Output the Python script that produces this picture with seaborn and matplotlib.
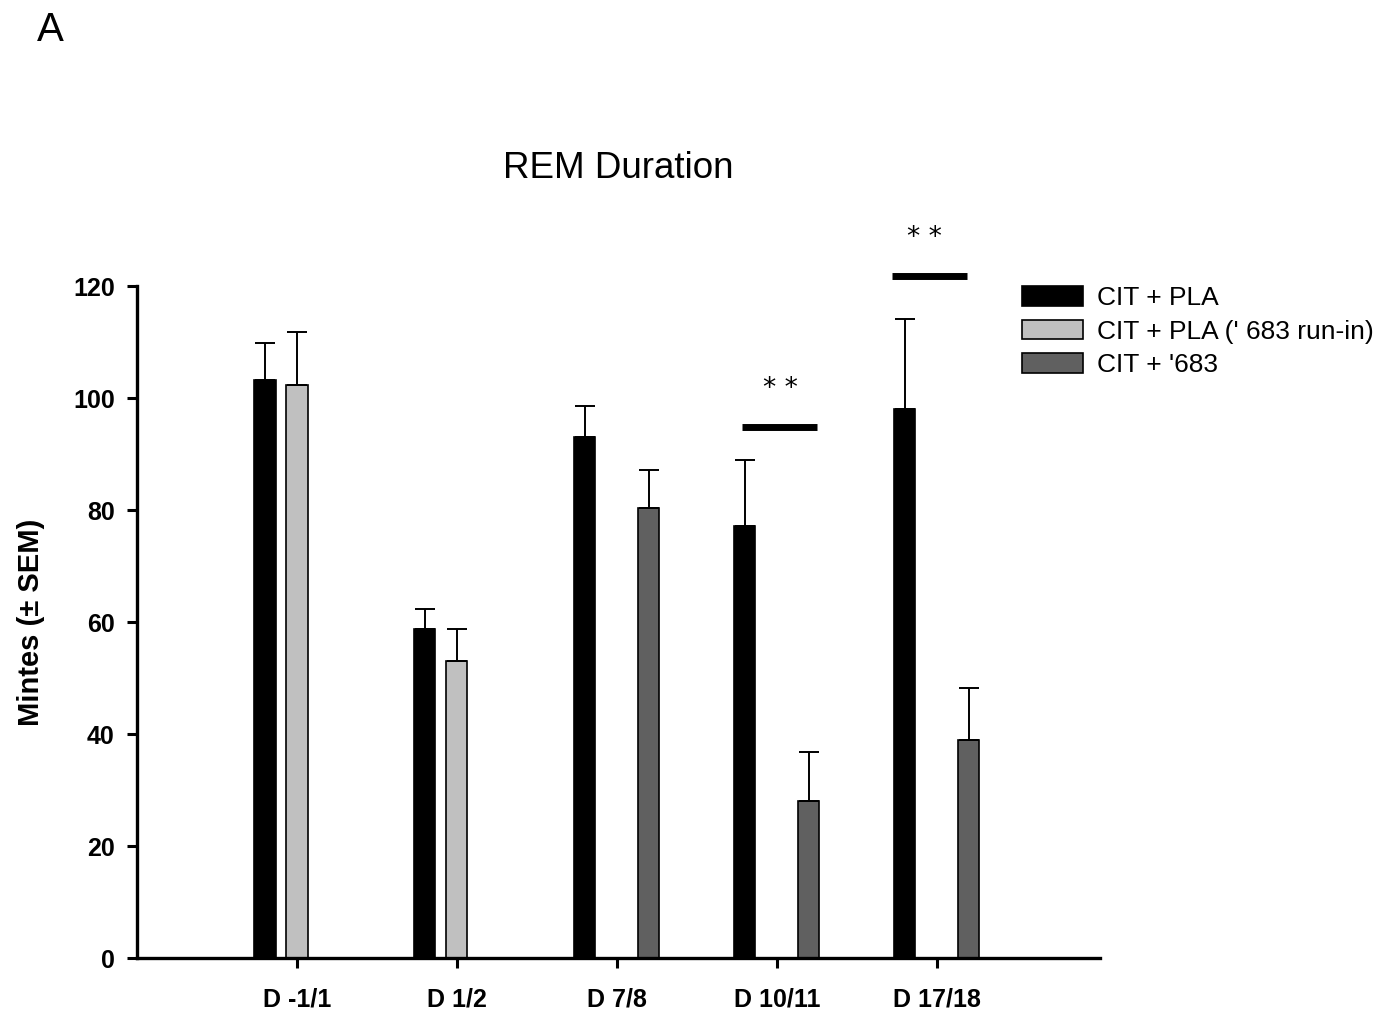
import matplotlib
matplotlib.use("Agg")
import matplotlib.pyplot as plt
import numpy as np
import pandas as pd
import seaborn as sns

# values (minutes, mean and SEM)
days = ["D -1/1", "D 1/2", "D 7/8", "D 10/11", "D 17/18"]
groups = ["CIT + PLA", "CIT + PLA (' 683 run-in)", "CIT + '683"]

cit_pla = [103.3, 58.8, 93.1, 77.2, 98.0]
cit_pla_sem = [6.6, 3.5, 5.5, 11.8, 16.1]

run_in_days = ["D -1/1", "D 1/2"]
run_in = [102.4, 53.1]
run_in_sem = [9.4, 5.7]

drug_days = ["D 7/8", "D 10/11", "D 17/18"]
cit_683 = [80.3, 28.1, 38.9]
cit_683_sem = [6.9, 8.6, 9.3]

colors = ["#000000", "#c0c0c0", "#606060"]


def build_frame():
    rows = []
    for d, v, s in zip(days, cit_pla, cit_pla_sem):
        rows.append((d, groups[0], v, s))
    for d, v, s in zip(run_in_days, run_in, run_in_sem):
        rows.append((d, groups[1], v, s))
    for d, v, s in zip(drug_days, cit_683, cit_683_sem):
        rows.append((d, groups[2], v, s))
    return pd.DataFrame(rows, columns=["Day", "Group", "Minutes", "SEM"])


def main():
    sns.set_style("ticks")
    plt.rcParams["font.family"] = ["Liberation Sans", "DejaVu Sans"]
    for key in ["text.color", "axes.labelcolor", "xtick.color", "ytick.color"]:
        plt.rcParams[key] = "black"

    data = build_frame()

    fig = plt.figure(figsize=(13.87, 10.13), dpi=100)
    ax = fig.add_axes([137 / 1387, 55 / 1013, 963 / 1387, 672 / 1013])

    sns.barplot(data=data, x="Day", y="Minutes", hue="Group", order=days,
                hue_order=groups, palette=colors, width=0.6, gap=0.34,
                errorbar=None, edgecolor="black", linewidth=1.2,
                legend=False, ax=ax)

    # error bars (upper only) on top of each bar
    for cont, g in zip(ax.containers, groups):
        sub = data[data["Group"] == g].set_index("Day")
        for bar in cont:
            xc = bar.get_x() + bar.get_width() / 2
            day = days[int(round(xc))]
            h = sub.loc[day, "Minutes"]
            err = sub.loc[day, "SEM"]
            ax.errorbar(xc, h, yerr=[[0], [err]], fmt="none", ecolor="black",
                        elinewidth=1.4, capsize=7.5, capthick=1.4, zorder=1)

    ax.set_xlim(-1.0, 5.02)
    ax.set_ylim(0, 120)
    ax.set_yticks(np.arange(0, 121, 20))
    ax.set_xlabel("")
    ax.set_ylabel("Mintes (± SEM)", fontsize=21, fontweight="bold", labelpad=20)
    ax.tick_params(axis="both", labelsize=18, length=7, width=2.2, color="black")
    for lab in ax.get_xticklabels() + ax.get_yticklabels():
        lab.set_fontweight("bold")
    ax.tick_params(axis="x", pad=14)
    ax.tick_params(axis="y", pad=9)
    sns.despine(ax=ax)
    for sp in ["left", "bottom"]:
        ax.spines[sp].set_linewidth(2.4)
        ax.spines[sp].set_color("black")

    # significance markers
    ax.plot([2.78, 3.25], [94.8, 94.8], color="black", lw=5, solid_capstyle="butt",
            clip_on=False)
    ax.plot([3.72, 4.19], [121.8, 121.8], color="black", lw=5, solid_capstyle="butt",
            clip_on=False)
    ax.text(3.02, 101.6, "* *", ha="center", va="center", fontsize=19,
            family="DejaVu Sans", clip_on=False)
    ax.text(3.92, 128.6, "* *", ha="center", va="center", fontsize=19,
            family="DejaVu Sans", clip_on=False)

    handles = [plt.Rectangle((0, 0), 1, 1, facecolor=c, edgecolor="black", linewidth=1.2)
               for c in colors]
    fig.legend(handles, groups, loc="upper left",
               bbox_to_anchor=(1022 / 1387, 1 - 286 / 1013), frameon=False,
               fontsize=19, handlelength=2.3, handleheight=0.76,
               handletextpad=0.55, labelspacing=0.36, borderpad=0, borderaxespad=0)

    fig.text(618 / 1387, 1 - 168 / 1013, "REM Duration", ha="center", va="center",
             fontsize=26.5)
    fig.text(50 / 1387, 1 - 30 / 1013, "A", ha="center", va="center", fontsize=29)

    fig.savefig("out.png", dpi=100)


if __name__ == "__main__":
    main()
